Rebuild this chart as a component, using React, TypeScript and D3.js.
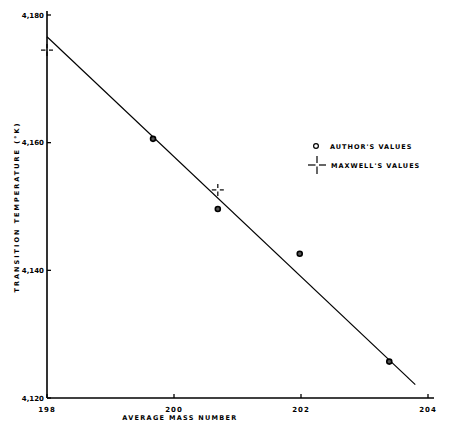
import React from "react";
import * as d3 from "d3";

const xTicks = [198, 200, 202, 204];
const yTicks = [4.12, 4.14, 4.16, 4.18];
const yTickLabels = ["4,120", "4,140", "4,160", "4,180"];
const authorMass = [199.67, 200.69, 201.98, 203.39];
const authorTemp = [4.1606, 4.1496, 4.1426, 4.1257];
const maxwellMass = [198.0, 200.69];
const maxwellTemp = [4.1745, 4.1526];
const fitMass = [198.0, 203.8];
const fitTemp = [4.1766, 4.1221];

const W = 460;
const H = 431;

export default function App() {
  const x = d3.scaleLinear().domain([198, 204]).range([47, 428]);
  const y = d3.scaleLinear().domain([4.12, 4.18]).range([398, 15]);
  const line = d3
    .line<number>()
    .x((_, i) => x(fitMass[i]))
    .y((_, i) => y(fitTemp[i]));
  const font = "'DejaVu Sans', sans-serif";
  const cross = (cx: number, cy: number, a: number, key: string) => (
    <g key={key} stroke="#000" strokeWidth={1.2}>
      <line x1={cx - a} x2={cx - 1.5} y1={cy} y2={cy} />
      <line x1={cx + 2} x2={cx + a} y1={cy} y2={cy} />
      <line x1={cx} x2={cx} y1={cy - a} y2={cy - 2} />
      <line x1={cx} x2={cx} y1={cy + 1.5} y2={cy + a} />
    </g>
  );
  return (
    <svg
      width={W}
      height={H}
      style={{ position: "absolute", left: 0, top: 0, background: "#fff" }}
      fontFamily={font}
      fill="#000"
    >
      <rect width={W} height={H} fill="#fff" />
      {/* axes */}
      <line x1={x(198)} x2={x(198)} y1={y(4.18) - 4} y2={y(4.12)} stroke="#000" strokeWidth={1.6} />
      <line x1={x(198)} x2={x(204) + 6} y1={y(4.12)} y2={y(4.12)} stroke="#000" strokeWidth={1.6} />
      {yTicks.map((t, i) => (
        <g key={"yt" + i}>
          <line x1={x(198)} x2={x(198) + 4} y1={y(t)} y2={y(t)} stroke="#000" strokeWidth={1.3} />
          <text
            x={x(198) - 3}
            y={y(t) + 2.5}
            textAnchor="end"
            fontSize={7}
            fontWeight="bold"
            fill="#000"
          >
            {yTickLabels[i]}
          </text>
        </g>
      ))}
      {xTicks.map((t) => (
        <g key={"xt" + t}>
          <line x1={x(t)} x2={x(t)} y1={y(4.12)} y2={y(4.12) - 4} stroke="#000" strokeWidth={1.3} />
          <text
            x={x(t)}
            y={y(4.12) + 14}
            textAnchor="middle"
            fontSize={7}
            fontWeight="bold"
            letterSpacing={1}
            fill="#000"
          >
            {t}
          </text>
        </g>
      ))}
      <text
        x={180}
        y={420}
        textAnchor="middle"
        fontSize={6.5}
        fontWeight="bold"
        letterSpacing={1.3}
        fill="#000"
      >
        AVERAGE MASS NUMBER
      </text>
      <text
        transform="translate(19,207) rotate(-90)"
        textAnchor="middle"
        fontSize={6.5}
        fontWeight="bold"
        letterSpacing={2}
        fill="#000"
      >
        TRANSITION TEMPERATURE (°K)
      </text>
      {/* fit line */}
      <path d={line(fitMass) || ""} fill="none" stroke="#000" strokeWidth={1.2} />
      {/* author's values */}
      {authorMass.map((m, i) => (
        <circle
          key={"a" + i}
          cx={x(m)}
          cy={y(authorTemp[i])}
          r={2.5}
          fill="#555"
          stroke="#000"
          strokeWidth={1.6}
        />
      ))}
      {/* Maxwell's values */}
      {maxwellMass.map((m, i) => cross(x(m), y(maxwellTemp[i]), 6, "m" + i))}
      {/* legend */}
      <circle cx={316} cy={146} r={2.4} fill="#fff" stroke="#000" strokeWidth={1.2} />
      <text x={330} y={148.5} fontSize={6.5} fontWeight="bold" letterSpacing={1} fill="#000">
        AUTHOR'S VALUES
      </text>
      {cross(317, 165, 9, "leg")}
      <text x={331} y={167.5} fontSize={6.5} fontWeight="bold" letterSpacing={1} fill="#000">
        MAXWELL'S VALUES
      </text>
    </svg>
  );
}
